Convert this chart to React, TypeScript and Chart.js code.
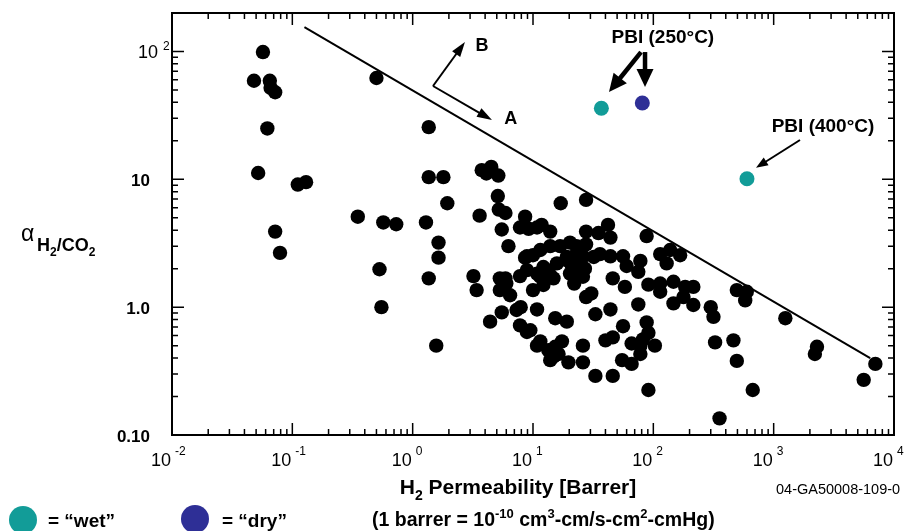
import { useEffect, useRef } from "react";
import { Chart, registerables } from "chart.js";
Chart.register(...registerables);

// H2 permeability [Barrer] and H2/CO2 selectivity of the literature membranes (black dots)
const membraneX = [
  0.057, 0.048, 0.065, 0.066, 0.072, 0.062, 0.052, 0.111, 0.13, 0.072, 0.079,
  0.5, 1.36, 1.36, 1.8, 1.94, 0.35, 0.57, 0.73, 1.29, 1.64, 1.64, 0.53, 1.36, 0.55, 1.57, 3.2, 3.4, 3.6,
  3.75, 4.1, 4.5, 5.15, 5.1, 5.2, 5.9, 5.5, 6.25, 8.6, 7.8, 9.2, 10.8, 11.8, 13.9, 17, 27.6, 27.6,
  8.9, 11.5, 13.9, 16.8, 20.3, 23, 27.6, 8.9, 12.2, 15.8, 19.1, 23, 27, 13.9, 20.3, 10, 8.6,
  88, 35, 42, 44, 114, 138, 167, 129, 26, 36, 44, 56, 78, 60,
  215, 91, 114, 147, 184, 114, 147, 178, 215, 75, 300, 316, 494, 598, 580, 1250, 2290, 2200, 7000, 5600,
  326, 463, 494, 670, 355, 91, 33, 46, 55, 66, 66, 78, 103, 78, 88, 91, 82, 56, 40, 46, 44, 33, 27.6, 30.5,
  58, 46, 75, 32, 22, 26, 26, 26, 19.7, 14.8, 17.4, 13.4, 15.3, 10.8, 11.5, 13.9, 15.3, 19.1, 9.5, 7.8, 8.9,
  5.5, 7.3, 7.9, 10.8, 4.4, 5.3, 10, 12.2, 14.8, 11.5, 13, 19.1, 23, 21, 25, 25, 16.3,
  5.9, 6.0, 10.8, 5.3, 6.45, 7.8,
];
const membraneY = [
  99, 59, 59, 52, 48, 25, 11.2, 9.1, 9.5, 3.9, 2.66,
  62, 25.6, 10.4, 10.4, 6.5, 5.1, 4.6, 4.45, 4.6, 3.2, 2.44, 1.98, 1.68, 1.0, 0.5, 1.75, 1.36, 5.2,
  11.8, 11.1, 12.5, 10.7, 7.4, 5.8, 5.45, 4.05, 3.0, 5.1, 4.2, 4.1, 4.2, 4.4, 3.9, 6.5, 6.9, 3.9,
  2.5, 2.8, 3.0, 3.0, 3.2, 3.0, 3.1, 1.95, 2.06, 2.2, 2.33, 2.2, 2.0, 1.78, 1.83, 2.55, 2.44,
  3.6, 3.8, 4.4, 3.5, 2.6, 2.8, 2.55, 2.2, 2.5, 2.6, 2.5, 2.5, 2.3, 2.1,
  1.44, 1.5, 1.53, 1.58, 1.44, 1.32, 1.07, 1.2, 1.04, 1.05, 1.0, 0.84, 1.36, 1.32, 1.13, 0.82, 0.49, 0.43, 0.36, 0.27,
  0.53, 0.55, 0.38, 0.225, 0.135, 0.225, 0.29, 0.29, 0.385, 0.36, 0.52, 0.5, 0.5, 0.43, 0.76, 0.63, 0.56, 0.71, 0.55, 0.58, 0.96, 0.88, 1.2, 1.28,
  1.44, 1.68, 1.89, 2.47, 1.53, 1.73, 0.5, 0.37, 0.37, 0.41, 0.54, 0.46, 0.49, 0.5, 0.54, 0.385, 0.82, 0.77, 0.66, 0.72, 0.64,
  0.91, 0.95, 1.0, 0.96, 0.77, 1.68, 1.36, 1.49, 1.68, 1.73, 1.95, 2.47, 2.63, 2.13, 2.13, 1.78, 0.43,
  1.68, 1.53, 1.83, 1.36, 1.24, 1.75,
];
// PBI: wet (teal) and dry (blue)
const pbiWetX = [37, 600];
const pbiWetY = [36, 10.1];
const pbiDryX = [81];
const pbiDryY = [39.5];
// upper bound line
const boundX = [0.126, 6340];
const boundY = [155, 0.4];
// axes
const xMin = 0.01, xMax = 10000;
const yMin = 0.1, yMax = 200;
const xTickExponents = [-2, -1, 0, 1, 2, 3, 4];
const yTickValues = [0.1, 1, 10];
const yTickLabels = ["0.10", "1.0", "10"];

type Part = [string, number];
const FAM = '"Liberation Sans", Arial, sans-serif';

function rich(ctx: CanvasRenderingContext2D, parts: Part[], x: number, y: number, align: string, size: number, bold: boolean) {
  const fontFor = (k: number) => `${bold ? "bold " : ""}${k === 0 ? size : Math.round(size * 0.65)}px ${FAM}`;
  const widths = parts.map((p) => { ctx.font = fontFor(p[1]); return ctx.measureText(p[0]).width; });
  const total = widths.reduce((a, b) => a + b, 0);
  let cx = align === "center" ? x - total / 2 : align === "right" ? x - total : x;
  ctx.textAlign = "left";
  ctx.textBaseline = "alphabetic";
  parts.forEach((p, i) => {
    ctx.font = fontFor(p[1]);
    const dy = p[1] === 1 ? -size * 0.42 : p[1] === -1 ? size * 0.3 : 0;
    ctx.fillText(p[0], cx, y + dy);
    cx += widths[i];
  });
}

function arrow(ctx: CanvasRenderingContext2D, x1: number, y1: number, x2: number, y2: number, lw: number, hl: number, hw: number) {
  const a = Math.atan2(y2 - y1, x2 - x1);
  const bx = x2 - hl * Math.cos(a), by = y2 - hl * Math.sin(a);
  ctx.lineWidth = lw;
  ctx.beginPath();
  ctx.moveTo(x1, y1);
  ctx.lineTo(bx + Math.cos(a) * 2, by + Math.sin(a) * 2);
  ctx.stroke();
  ctx.beginPath();
  ctx.moveTo(x2, y2);
  ctx.lineTo(bx + (hw / 2) * Math.sin(a), by - (hw / 2) * Math.cos(a));
  ctx.lineTo(bx - (hw / 2) * Math.sin(a), by + (hw / 2) * Math.cos(a));
  ctx.closePath();
  ctx.fill();
}

const decor = {
  id: "decor",
  afterDraw(chart: any) {
    const ctx: CanvasRenderingContext2D = chart.ctx;
    const xs = chart.scales.x, ys = chart.scales.y;
    const { left, right, top, bottom } = chart.chartArea;
    const X = (v: number) => xs.getPixelForValue(v);
    const Y = (v: number) => ys.getPixelForValue(v);
    ctx.save();
    ctx.strokeStyle = "#000";
    ctx.fillStyle = "#000";
    // frame
    ctx.lineWidth = 2;
    ctx.strokeRect(left, top, right - left, bottom - top);
    // ticks
    ctx.lineWidth = 1.5;
    ctx.beginPath();
    for (let e = -2; e <= 3; e++) {
      for (let m = 1; m <= 9; m++) {
        const px = X(m * Math.pow(10, e));
        const len = m === 1 ? 12 : 6;
        ctx.moveTo(px, bottom); ctx.lineTo(px, bottom - len);
        ctx.moveTo(px, top); ctx.lineTo(px, top + len);
      }
    }
    for (let e = -1; e <= 2; e++) {
      for (let m = 1; m <= 9; m++) {
        const v = m * Math.pow(10, e);
        if (v >= yMax) break;
        const py = Y(v);
        const len = m === 1 ? 12 : 6;
        ctx.moveTo(left, py); ctx.lineTo(left + len, py);
        ctx.moveTo(right, py); ctx.lineTo(right - len, py);
      }
    }
    ctx.stroke();

    // x tick labels
    xTickExponents.forEach((e) => {
      const px = X(Math.pow(10, e));
      ctx.font = `18px ${FAM}`;
      ctx.textAlign = "right";
      ctx.textBaseline = "alphabetic";
      ctx.fillText("10", px - 1, 466);
      ctx.font = `12px ${FAM}`;
      ctx.textAlign = "left";
      ctx.fillText(String(e), px + 3, 455);
    });
    // y tick labels
    yTickValues.forEach((v, i) => {
      ctx.font = `bold 17px ${FAM}`;
      ctx.textAlign = "right";
      ctx.textBaseline = "alphabetic";
      ctx.fillText(yTickLabels[i], 150, Y(v) + 7);
    });
    ctx.font = `18px ${FAM}`;
    ctx.textAlign = "right";
    ctx.fillText("10", 158, Y(100) + 7);
    ctx.font = `12px ${FAM}`;
    ctx.textAlign = "left";
    ctx.fillText("2", 163, Y(100) - 1);

    // axis titles
    ctx.font = `23px ${FAM}`;
    ctx.textAlign = "left";
    ctx.fillText("\u03b1", 21, 241);
    rich(ctx, [["H", 0], ["2", -1], ["/CO", 0], ["2", -1]], 37, 251, "left", 18, true);
    rich(ctx, [["H", 0], ["2", -1], [" Permeability [Barrer]", 0]], 518, 494, "center", 21, true);
    ctx.font = `14.5px ${FAM}`;
    ctx.textAlign = "left";
    ctx.fillText("04-GA50008-109-0", 776, 494);

    // annotations
    const cx = X(1.476), cy = Y(53.7);
    arrow(ctx, cx, cy, X(2.72), Y(118.6), 2, 15, 10);
    arrow(ctx, cx, cy, X(4.56), Y(29.1), 2, 15, 10);
    ctx.font = `bold 18px ${FAM}`;
    ctx.textAlign = "center";
    ctx.textBaseline = "middle";
    ctx.fillText("B", X(3.77), Y(110));
    ctx.fillText("A", X(6.53), Y(29.4));
    ctx.font = `bold 19px ${FAM}`;
    ctx.fillText("PBI (250\u00b0C)", X(120), Y(127));
    ctx.fillText("PBI (400\u00b0C)", X(2570), Y(25.7));
    arrow(ctx, X(79), Y(99), X(42.8), Y(48.2), 4.5, 18, 17);
    arrow(ctx, X(85.3), Y(99), X(85.3), Y(52.7), 4.5, 18, 17);
    arrow(ctx, X(1655), Y(20.3), X(713), Y(12.3), 2, 12, 9);

    // legend
    ctx.fillStyle = "#129c98";
    ctx.beginPath(); ctx.ellipse(23, 520, 14, 14, 0, 0, Math.PI * 2); ctx.fill();
    ctx.fillStyle = "#2e2f96";
    ctx.beginPath(); ctx.ellipse(195, 519, 14, 14, 0, 0, Math.PI * 2); ctx.fill();
    ctx.fillStyle = "#000";
    ctx.textBaseline = "alphabetic";
    ctx.font = `bold 19px ${FAM}`;
    ctx.textAlign = "left";
    ctx.fillText("= \u201cwet\u201d", 48, 527);
    ctx.fillText("= \u201cdry\u201d", 222, 527);
    rich(ctx, [["(1 barrer = 10", 0], ["-10", 1], [" cm", 0], ["3", 1], ["-cm/s-cm", 0], ["2", 1], ["-cmHg)", 0]], 372, 526, "left", 19.5, true);
    ctx.restore();
  },
};

export default function App() {
  const ref = useRef<HTMLCanvasElement>(null);
  useEffect(() => {
    document.body.style.margin = "0";
    const pts = (xa: number[], ya: number[]) => xa.map((x, i) => ({ x, y: ya[i] }));
    const chart = new Chart(ref.current!, {
      type: "scatter",
      data: {
        datasets: [
          { data: pts(pbiWetX, pbiWetY), backgroundColor: "#129c98", borderWidth: 0, pointRadius: 7.5, clip: false, order: 1 } as any,
          { data: pts(pbiDryX, pbiDryY), backgroundColor: "#2e2f96", borderWidth: 0, pointRadius: 7.5, clip: false, order: 1 } as any,
          { data: pts(membraneX, membraneY), backgroundColor: "#000", borderWidth: 0, pointRadius: 7.2, clip: false, order: 2 } as any,
          { data: pts(boundX, boundY), showLine: true, borderColor: "#000", borderWidth: 2, pointRadius: 0, clip: false, order: 3 } as any,
        ],
      },
      options: {
        animation: false,
        responsive: false,
        devicePixelRatio: 1,
        layout: { padding: { left: 172, right: 11, top: 13, bottom: 96 } },
        plugins: { legend: { display: false }, tooltip: { enabled: false }, title: { display: false } },
        events: [],
        scales: {
          x: { type: "logarithmic", min: xMin, max: xMax, display: false },
          y: { type: "logarithmic", min: yMin, max: yMax, display: false },
        },
      },
      plugins: [decor],
    });
    return () => chart.destroy();
  }, []);
  return (
    <div style={{ width: 905, height: 531, background: "#fff" }}>
      <canvas ref={ref} width={905} height={531} />
    </div>
  );
}
